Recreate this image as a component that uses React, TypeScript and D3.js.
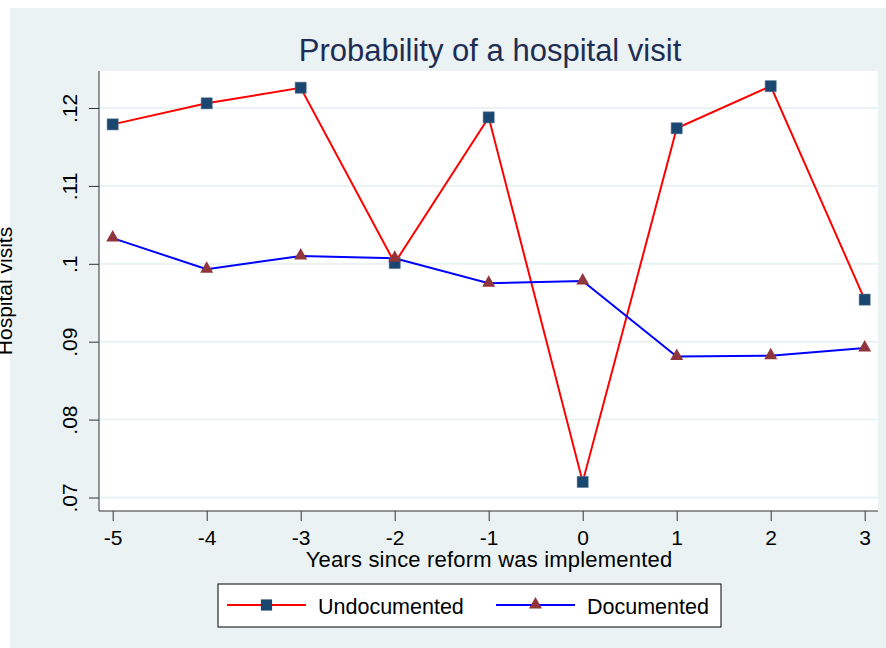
import * as d3 from "d3";
import { useEffect, useRef } from "react";

// Data
const years = [-5, -4, -3, -2, -1, 0, 1, 2, 3];
const undocumented = [0.1179, 0.1206, 0.1226, 0.1001, 0.1188, 0.072, 0.1174, 0.1228, 0.0954];
const documented = [0.1033, 0.0993, 0.101, 0.1007, 0.0975, 0.0978, 0.0881, 0.0882, 0.0892];
const yTicks = [0.07, 0.08, 0.09, 0.1, 0.11, 0.12];
const yTickLabels = [".07", ".08", ".09", ".1", ".11", ".12"];
const seriesNames = ["Undocumented", "Documented"];

const App = () => {
    const svgRef = useRef<SVGSVGElement | null>(null);

    useEffect(() => {
        if (!svgRef.current) return;

        const width = 886;
        const height = 648;
        const plot = { left: 99, right: 878, top: 71, bottom: 511 };
        const font = "'Liberation Sans', Arial, sans-serif";
        const bg = "#EAF2F3";

        const svg = d3.select(svgRef.current)
            .attr("width", width)
            .attr("height", height)
            .style("position", "absolute")
            .style("left", "0px")
            .style("top", "0px")
            .style("background", "#fff");

        svg.selectAll("*").remove();

        // Outer graph region
        svg.append("rect")
            .attr("x", 10).attr("y", 8)
            .attr("width", width - 10).attr("height", height - 8)
            .attr("fill", bg);

        // Plot region
        svg.append("rect")
            .attr("x", plot.left).attr("y", plot.top)
            .attr("width", plot.right - plot.left).attr("height", plot.bottom - plot.top)
            .attr("fill", "#fff");

        // Scales
        const x = d3.scaleLinear().domain([-5, 3]).range([112.7, 864.7]);
        const y = d3.scaleLinear().domain([0.07, 0.12]).range([497.5, 108]);

        // Gridlines
        svg.append("g")
            .selectAll("line")
            .data(yTicks)
            .join("line")
            .attr("x1", plot.left + 1).attr("x2", plot.right)
            .attr("y1", d => y(d)).attr("y2", d => y(d))
            .attr("stroke", bg)
            .attr("stroke-width", 2);

        // Y axis
        const yAxis = svg.append("g")
            .attr("transform", `translate(${plot.left},0)`)
            .call(d3.axisLeft(y).tickValues(yTicks).tickSize(10).tickPadding(0)
                .tickFormat((_, i) => yTickLabels[i]));
        yAxis.select(".domain").attr("d", `M0,${plot.top}V${plot.bottom}`).attr("stroke", "#333");
        yAxis.selectAll(".tick line").attr("stroke", "#333");
        yAxis.selectAll(".tick text")
            .attr("x", null).attr("dy", null)
            .attr("transform", "translate(-22.5,0) rotate(-90)")
            .attr("text-anchor", "middle")
            .attr("fill", "#000")
            .style("font-family", font)
            .style("font-size", "21px");

        // X axis
        const xAxis = svg.append("g")
            .attr("transform", `translate(0,${plot.bottom})`)
            .call(d3.axisBottom(x).tickValues(years).tickSize(10).tickPadding(0)
                .tickFormat(d => String(d)));
        xAxis.select(".domain").attr("d", `M${plot.left},0H${plot.right}`).attr("stroke", "#333");
        xAxis.selectAll(".tick line").attr("stroke", "#333");
        xAxis.selectAll(".tick text")
            .attr("y", 34).attr("dy", null)
            .attr("fill", "#000")
            .style("font-family", font)
            .style("font-size", "21px");

        // Lines
        const line = d3.line<number>()
            .x((_, i) => x(years[i]))
            .y(d => y(d));

        svg.append("path")
            .datum(undocumented)
            .attr("fill", "none")
            .attr("stroke", "#FF0000")
            .attr("stroke-width", 2)
            .attr("d", line);

        svg.append("path")
            .datum(documented)
            .attr("fill", "none")
            .attr("stroke", "#0000FF")
            .attr("stroke-width", 2)
            .attr("d", line);

        const square = d3.symbol().type(d3.symbolSquare).size(125);
        const triangle = "M0,-7L6.5,4.5L-6.5,4.5Z";

        svg.append("g")
            .selectAll("path")
            .data(undocumented)
            .join("path")
            .attr("transform", (d, i) => `translate(${x(years[i])},${y(d)})`)
            .attr("d", square()!)
            .attr("fill", "#1A476F")
            .attr("stroke", "#5B7A96")
            .attr("stroke-width", 0.5);

        svg.append("g")
            .selectAll("path")
            .data(documented)
            .join("path")
            .attr("transform", (d, i) => `translate(${x(years[i])},${y(d) - 1})`)
            .attr("d", triangle)
            .attr("fill", "#90353B");

        // Title
        svg.append("text")
            .attr("x", 490).attr("y", 61)
            .attr("text-anchor", "middle")
            .attr("fill", "#1E2D53")
            .style("font-family", font)
            .style("font-size", "31px")
            .text("Probability of a hospital visit");

        // Axis titles
        svg.append("text")
            .attr("x", 489).attr("y", 567)
            .attr("text-anchor", "middle")
            .attr("fill", "#000")
            .style("font-family", font)
            .style("font-size", "22px")
            .style("letter-spacing", "0.2px")
            .text("Years since reform was implemented");

        svg.append("text")
            .attr("transform", `translate(12,${(plot.top + plot.bottom) / 2}) rotate(-90)`)
            .attr("text-anchor", "middle")
            .attr("fill", "#000")
            .style("font-family", font)
            .style("font-size", "21px")
            .text("Hospital visits");

        // Legend
        const legend = svg.append("g");
        legend.append("rect")
            .attr("x", 218).attr("y", 584)
            .attr("width", 503).attr("height", 43)
            .attr("fill", "#fff")
            .attr("stroke", "#000")
            .attr("stroke-width", 1);

        const legendItems = [
            { x0: 227, color: "#FF0000", marker: "square", tx: 318 },
            { x0: 496, color: "#0000FF", marker: "triangle", tx: 587 }
        ];
        legendItems.forEach((item, i) => {
            legend.append("line")
                .attr("x1", item.x0).attr("x2", item.x0 + 79)
                .attr("y1", 605).attr("y2", 605)
                .attr("stroke", item.color)
                .attr("stroke-width", 2);
            legend.append("path")
                .attr("transform", `translate(${item.x0 + 39.5},${item.marker === "square" ? 605 : 604})`)
                .attr("d", item.marker === "square" ? square()! : triangle)
                .attr("fill", item.marker === "square" ? "#1A476F" : "#90353B");
            legend.append("text")
                .attr("x", item.tx).attr("y", 614)
                .attr("fill", "#000")
                .style("font-family", font)
                .style("font-size", "21.5px")
                .text(seriesNames[i]);
        });
    }, []);

    return <svg ref={svgRef}></svg>;
};

export default App;
